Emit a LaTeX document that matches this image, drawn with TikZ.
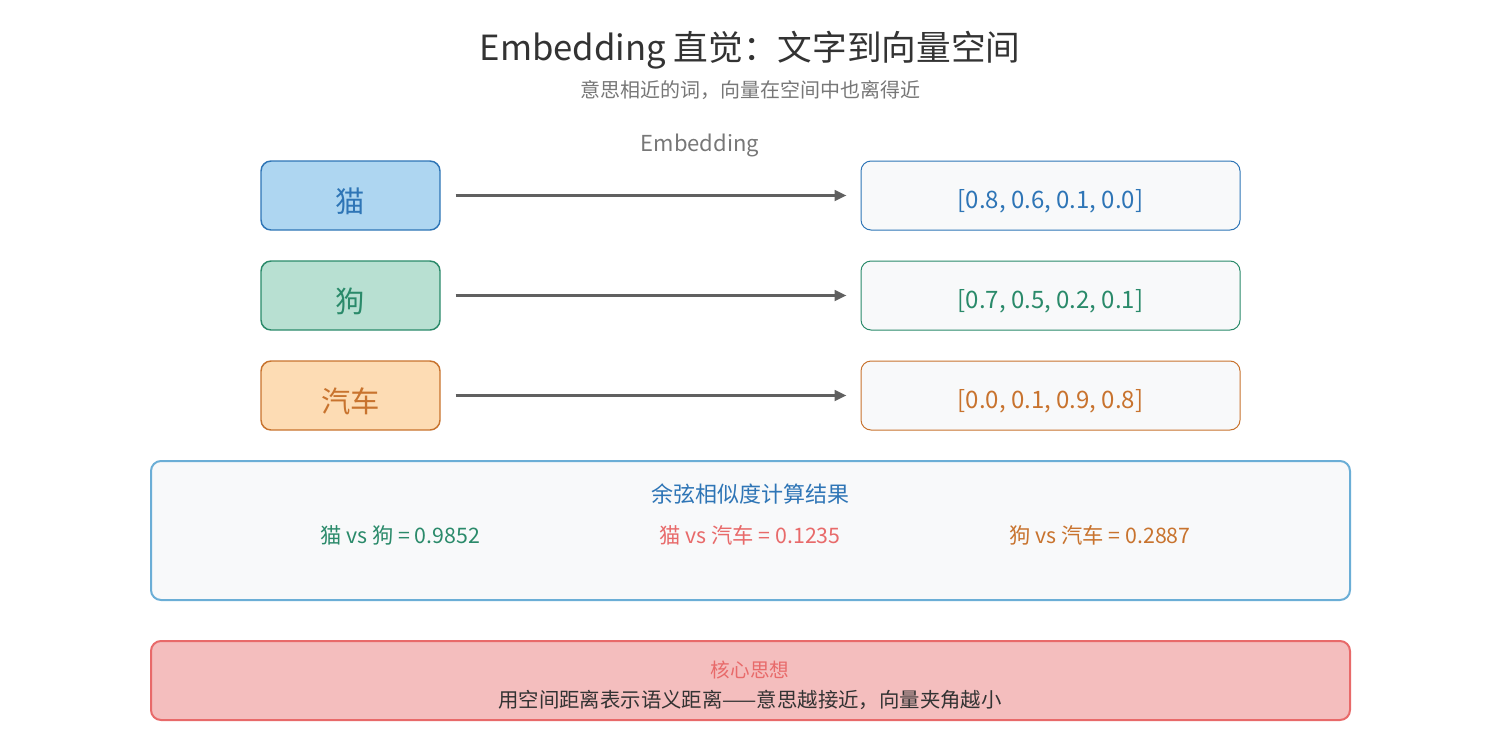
\documentclass[tikz,border=0pt]{standalone}
\usepackage{fontspec}
\setmainfont{Noto Sans CJK SC}
\usetikzlibrary{arrows.meta}

\definecolor{titlegray}{RGB}{51,51,51}
\definecolor{subgray}{RGB}{119,119,119}
\definecolor{arrowgray}{RGB}{96,96,96}
\definecolor{boxgray}{RGB}{248,249,250}
\definecolor{catblue}{RGB}{46,117,182}
\definecolor{catfill}{RGB}{174,214,241}
\definecolor{doggreen}{RGB}{42,138,106}
\definecolor{dogfill}{RGB}{184,224,210}
\definecolor{carorange}{RGB}{200,115,46}
\definecolor{carfill}{RGB}{253,220,180}
\definecolor{simblue}{RGB}{107,174,214}
\definecolor{corered}{RGB}{232,106,106}
\definecolor{corefill}{RGB}{244,190,190}

\tikzset{
  wordbox/.style={draw, line width=1.1pt, rounded corners=7.5pt, minimum width=134.25pt, minimum height=51.75pt, inner sep=0pt, font=\fontsize{22}{26}\selectfont, text height=25pt, text depth=0pt},
  vecbox/.style={draw, line width=0.75pt, fill=boxgray, rounded corners=7.5pt, minimum width=284.25pt, minimum height=51.75pt, inner sep=0pt, font=\fontsize{18}{21}\selectfont, text height=20pt, text depth=0pt},
  embarrow/.style={draw=arrowgray, line width=2pt, -{Triangle[length=9pt,width=8pt]}, shorten <=11.25pt, shorten >=10.5pt},
  widebox/.style={draw, line width=1.5pt, rounded corners=7.5pt, minimum width=899.25pt, inner sep=0pt},
}

\begin{document}
\begin{tikzpicture}[x=0.75pt,y=0.75pt,yscale=-1,xscale=1]
			\path[use as bounding box] (0,0) rectangle (1500,750);

			% Title
			\node[text=titlegray, font=\fontsize{26}{31}\selectfont] (title) at (750,50) {Embedding 直觉：文字到向量空间};
			\node[text=subgray, font=\fontsize{15}{18}\selectfont] (subtitle) at (750,90) {意思相近的词，向量在空间中也离得近};
			\node[text=subgray, font=\fontsize{16.5}{20}\selectfont] (emblabel) at (700,145) {Embedding};

			% Words
			\node[wordbox, draw=catblue, fill=catfill, text=catblue] (cat) at (350.5,195.5) {猫};
			\node[wordbox, draw=doggreen, fill=dogfill, text=doggreen] (dog) at (350.5,295.5) {狗};
			\node[wordbox, draw=carorange, fill=carfill, text=carorange] (car) at (350.5,395.5) {汽车};

			% Vectors
			\node[vecbox, draw=catblue, text=catblue] (catvec) at (1050.5,195.5) {[0.8, 0.6, 0.1, 0.0]};
			\node[vecbox, draw=doggreen, text=doggreen] (dogvec) at (1050.5,295.5) {[0.7, 0.5, 0.2, 0.1]};
			\node[vecbox, draw=carorange, text=carorange] (carvec) at (1050.5,395.5) {[0.0, 0.1, 0.9, 0.8]};

			% Arrows
			\draw[embarrow] (cat.east) -- (catvec.west);
			\draw[embarrow] (dog.east) -- (dogvec.west);
			\draw[embarrow] (car.east) -- (carvec.west);

			% Cosine similarity
			\node[widebox, draw=simblue, fill=boxgray, minimum height=104.25pt] (simbox) at (750.5,530.5) {};
			\node[text=catblue, font=\fontsize{16.5}{20}\selectfont] (simtitle) at (750,494) {余弦相似度计算结果};
			\node[text=doggreen, font=\fontsize{16}{19}\selectfont] (catdog) at (400,535) {猫 vs 狗 = 0.9852};
			\node[text=corered, font=\fontsize{16}{19}\selectfont] (catcar) at (750,535) {猫 vs 汽车 = 0.1235};
			\node[text=carorange, font=\fontsize{16}{19}\selectfont] (dogcar) at (1100,535) {狗 vs 汽车 = 0.2887};

			% Core idea
			\node[widebox, draw=corered, fill=corefill, minimum height=59.25pt] (corebox) at (750.5,680.5) {};
			\node[text=corered, font=\fontsize{14.7}{17}\selectfont] (coretitle) at (750,670) {核心思想};
			\node[text=titlegray, font=\fontsize{15.3}{18}\selectfont] (coretext) at (750,700) {用空间距离表示语义距离——意思越接近，向量夹角越小};
\end{tikzpicture}
\end{document}
